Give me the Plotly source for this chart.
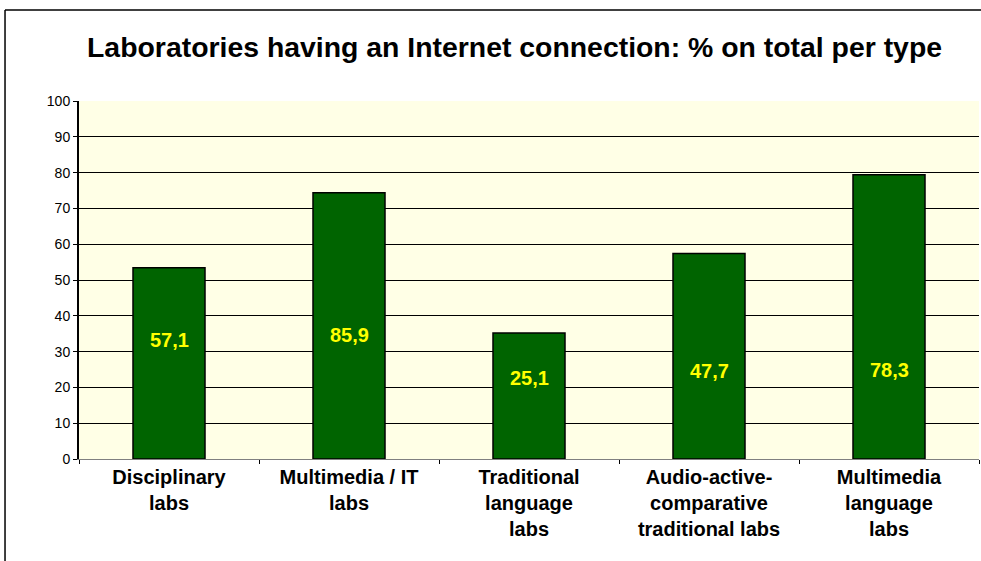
import plotly.graph_objects as go

categories = ["Disciplinary<br>labs", "Multimedia / IT<br>labs", "Traditional<br>language<br>labs",
              "Audio-active-<br>comparative<br>traditional labs", "Multimedia<br>language<br>labs"]
bar_heights = [53.4, 74.4, 35.2, 57.4, 79.4]
value_labels = ["57,1", "85,9", "25,1", "47,7", "78,3"]
label_y = [33.2, 34.6, 22.6, 24.6, 24.9]
y_ticks = [0, 10, 20, 30, 40, 50, 60, 70, 80, 90, 100]

FONT = "Liberation Sans, Arial"

fig = go.Figure()
fig.add_trace(go.Bar(
    x=categories, y=bar_heights, width=0.4,
    marker=dict(color="#006400", line=dict(color="#000000", width=1.5)),
    hoverinfo="skip", showlegend=False,
))

for c, t, yy in zip(categories, value_labels, label_y):
    fig.add_annotation(x=c, y=yy, text="<b>" + t + "</b>", showarrow=False,
                       font=dict(family=FONT, size=20, color="#FFFF00"),
                       xref="x", yref="y")

fig.update_layout(
    width=981, height=561,
    margin=dict(l=79, r=2, t=101, b=102),
    paper_bgcolor="white",
    plot_bgcolor="#FFFFE6",
    title=dict(text="<b>Laboratories having an Internet connection: % on total per type</b>",
               x=0.5245, xanchor="center", y=0.916, yanchor="middle",
               font=dict(family=FONT, size=28.4, color="#000000")),
    bargap=0.6,
)
fig.update_xaxes(
    showline=True, linecolor="#808080", linewidth=1,
    ticks="outside", tickson="boundaries", ticklen=4, tickcolor="#000000",
    tickfont=dict(family=FONT, size=20, color="#000000", weight="bold"),
    showgrid=False,
)
fig.update_yaxes(
    range=[0, 100], tickvals=y_ticks,
    showline=True, linecolor="#000000", linewidth=2,
    ticks="outside", ticklen=4, tickcolor="#000000",
    tickfont=dict(family=FONT, size=14, color="#000000"),
    showgrid=True, gridcolor="#000000", gridwidth=1,
    zeroline=False,
)
# outer chart border (left and top edges)
fig.add_shape(type="line", xref="paper", yref="paper", x0=-0.0822, x1=-0.0822, y0=-0.3, y1=1.254,
              line=dict(color="#000000", width=1.5))
fig.add_shape(type="line", xref="paper", yref="paper", x0=-0.0822, x1=1.01, y0=1.254, y1=1.254,
              line=dict(color="#000000", width=1.5))

fig.write_html("out.html", config={"displayModeBar": False},
               post_script="document.body.style.margin='0';")
